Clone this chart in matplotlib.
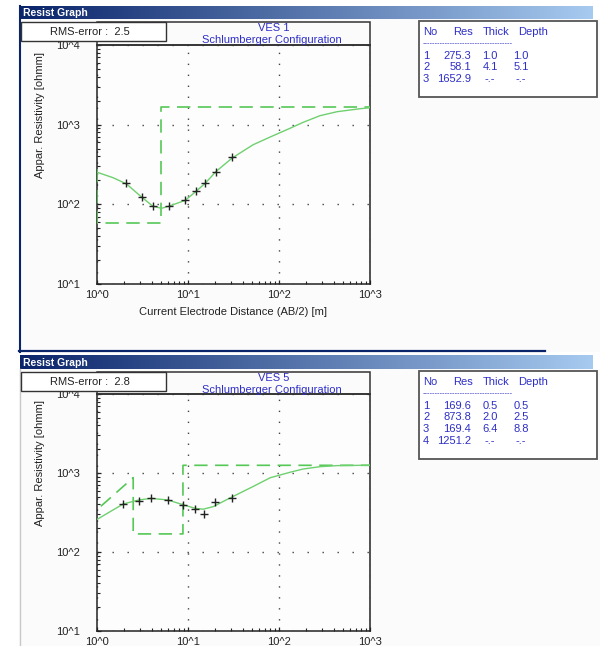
import matplotlib
matplotlib.use('Agg')
import matplotlib.pyplot as plt
import numpy as np
from matplotlib.patches import Rectangle
from matplotlib.ticker import NullFormatter, LogLocator

plt.rcParams['font.family'] = ['Liberation Sans', 'DejaVu Sans']

W, H = 600, 646

# VES 1 field data and fitted curve
ves1_ab2 = [2.1, 3.1, 4.1, 6.2, 9.3, 12.2, 15.4, 20.3, 30.7]
ves1_rho = [185, 123, 95, 94, 112, 145, 183, 258, 394]
ves1_fit_ab2 = [1.0, 1.5, 2.1, 3.1, 4.1, 5.1, 6.2, 9.3, 12.2, 15.4, 20.3, 30.7, 52, 80, 132, 184, 282, 434, 776, 1000]
ves1_fit_rho = [253, 216, 181, 123, 95, 89, 95, 112, 145, 183, 258, 383, 560, 700, 900, 1069, 1296, 1454, 1585, 1631]
ves1_res = [275.3, 58.1, 1652.9]
ves1_thick = [1.0, 4.1]
ves1_depth = [1.0, 5.1]

# VES 5 field data and fitted curve
ves5_ab2 = [1.95, 2.9, 3.9, 6.0, 8.9, 11.9, 15.0, 19.8, 30.2]
ves5_rho = [406, 447, 477, 456, 395, 350, 299, 425, 477]
ves5_fit_ab2 = [1.0, 1.4, 1.95, 2.9, 3.9, 6.0, 8.9, 11.9, 14.7, 19.0, 30.2, 52, 80, 132, 184, 282, 434, 1000]
ves5_fit_rho = [258, 325, 406, 456, 477, 456, 395, 358, 348, 376, 495, 675, 871, 1021, 1123, 1202, 1240, 1255]
ves5_res = [169.6, 873.8, 169.4, 1251.2]
ves5_thick = [0.5, 2.0, 6.4]
ves5_depth = [0.5, 2.5, 8.8]

x_ticks = [1, 10, 100, 1000]
x_labels = ['10^0', '10^1', '10^2', '10^3']
y_ticks = [10, 100, 1000, 10000]
y_labels = ['10^1', '10^2', '10^3', '10^4']

GREEN = '#6fd06f'
GREEN_D = '#55c855'
BLUE_TXT = '#2e2ec8'


def px_rect(l, t, r, b):
    return [l / W, 1 - b / H, (r - l) / W, (b - t) / H]


def model_path(res, depth, xmin=1.0, xmax=1000.0):
    xs, ys = [depth[0]], [res[0]]
    for r, d0, d1 in zip(res[1:], depth, depth[1:] + [xmax]):
        xs += [d0, d1]
        ys += [r, r]
    # program joins first point straight to the first visible corner
    keep = [0] + [i for i in range(1, len(xs)) if xs[i] >= xmin]
    return [xs[i] for i in keep], [ys[i] for i in keep]


def draw_panel(fig, box, ab2, rho, fx, fy, res, depth):
    ax = fig.add_axes(px_rect(*box))
    ax.set_facecolor('#fdfdfd')
    ax.set_xscale('log')
    ax.set_yscale('log')
    mx, my = model_path(res, depth)
    ax.plot(mx, my, color=GREEN_D, lw=1.2, linestyle=(0, (8, 4.5)), zorder=3)
    ax.plot(fx, fy, color=GREEN, lw=1.0, zorder=3)
    ax.plot(ab2, rho, '+', color='#222222', ms=6, mew=1.0, zorder=4)
    ax.set_xlim(1, 1000)
    ax.set_ylim(10, 10000)
    ax.set_xticks(x_ticks, x_labels)
    ax.set_yticks(y_ticks, y_labels)
    ax.xaxis.set_minor_locator(LogLocator(subs=np.arange(2, 10)))
    ax.yaxis.set_minor_locator(LogLocator(subs=np.arange(2, 10)))
    ax.xaxis.set_minor_formatter(NullFormatter())
    ax.yaxis.set_minor_formatter(NullFormatter())
    ax.tick_params(which='major', direction='in', length=3, width=0.9,
                   labelsize=8, labelcolor='#222222', color='#222222')
    ax.tick_params(which='minor', direction='in', length=2, width=0.8, color='#222222')
    ax.tick_params(axis='y', which='major', pad=12)
    ax.tick_params(axis='x', which='major', pad=4)
    ax.xaxis.grid(True, which='major', color='#444444', lw=1.0, linestyle=(0, (1, 6.9)))
    ax.yaxis.grid(True, which='major', color='#444444', lw=1.0, linestyle=(0, (1, 9.8)))
    for s in ax.spines.values():
        s.set_color('#222222')
        s.set_linewidth(1.1)
    return ax


fig = plt.figure(figsize=(6, 6.46), dpi=100)
fig.patch.set_facecolor('white')

# background: panels and title bars
bg = fig.add_axes([0, 0, 1, 1], zorder=0)
bg.set_xlim(0, W)
bg.set_ylim(H, 0)
bg.axis('off')
bg.add_patch(Rectangle((19, 19), 581, 333, facecolor='#fbfbfb', edgecolor='none'))
bg.add_patch(Rectangle((19, 369), 581, 277, facecolor='#fbfbfb', edgecolor='none'))
bg.plot([19.5, 19.5], [6, 352], color='#0a246a', lw=1.5)
bg.plot([19, 545], [351, 351], color='#0a246a', lw=1.6)
bg.plot([20, 20], [369, 646], color='#c8c8c8', lw=1.0)
grad = np.linspace(0, 1, 256)
c0 = np.array([10, 36, 106]) / 255
c1 = np.array([166, 202, 240]) / 255
img = (c0[None, :] + grad[:, None] * (c1 - c0)[None, :])[None, :, :]
for top, bot in [(6, 19), (355, 369)]:
    bg.imshow(img, extent=(20, 593, bot, top), aspect='auto', zorder=1)
    bg.text(23, (top + bot) / 2 + 0.5, 'Resist Graph', color='white', fontsize=7.5,
            fontweight='bold', va='center', ha='left', zorder=2)
bg.set_xlim(0, W)
bg.set_ylim(H, 0)

ax1 = draw_panel(fig, (97, 45, 370, 284), ves1_ab2, ves1_rho, ves1_fit_ab2, ves1_fit_rho,
                 ves1_res, ves1_depth)
ax2 = draw_panel(fig, (97, 394, 370, 631), ves5_ab2, ves5_rho, ves5_fit_ab2, ves5_fit_rho,
                 ves5_res, ves5_depth)

# overlay: boxes, captions, tables
ov = fig.add_axes([0, 0, 1, 1], zorder=5)
ov.set_xlim(0, W)
ov.set_ylim(H, 0)
ov.axis('off')
ov.patch.set_alpha(0)

ov.text(233, 312, 'Current Electrode Distance (AB/2) [m]', fontsize=8, color='#222222',
        ha='center', va='center')
for cy in [115, 463]:
    ov.text(40, cy, 'Appar. Resistivity [ohmm]', fontsize=8, color='#222222',
            rotation=90, ha='center', va='center')


def header_block(top, bottom, name, rms):
    ov.add_patch(Rectangle((97, top), 273, bottom - top, facecolor='none',
                           edgecolor='#333333', lw=1.1))
    ov.text(274, top + 6, name, color=BLUE_TXT, fontsize=8, ha='center', va='center')
    ov.text(272, top + 18, 'Schlumberger Configuration', color=BLUE_TXT, fontsize=8,
            ha='center', va='center')
    ov.add_patch(Rectangle((21, top), 145, 19, facecolor='white',
                           edgecolor='#333333', lw=1.0))
    ov.text(90, top + 10, 'RMS-error :  ' + rms, color='#222222', fontsize=8,
            ha='center', va='center')


header_block(22, 45, 'VES 1', '2.5')
header_block(372, 394, 'VES 5', '2.8')


def layer_table(top, bottom, res, thick, depth):
    ov.add_patch(Rectangle((419, top), 178, bottom - top, facecolor='white',
                           edgecolor='#555555', lw=1.3))
    hy = top + 11
    for x, s in [(423, 'No'), (453, 'Res'), (483, 'Thick'), (518, 'Depth')]:
        ov.text(x, hy, s, color=BLUE_TXT, fontsize=8, ha='left', va='center')
    ov.text(423, hy + 12, '-' * 36, color=BLUE_TXT, fontsize=5.5, ha='left', va='center')
    for i, r in enumerate(res):
        y = hy + 24 + i * 11.5
        t = '%.1f' % thick[i] if i < len(thick) else '-.-'
        d = '%.1f' % depth[i] if i < len(depth) else '-.-'
        ov.text(423, y, str(i + 1), color=BLUE_TXT, fontsize=8, ha='left', va='center')
        ov.text(471, y, '%.1f' % r, color=BLUE_TXT, fontsize=8, ha='right', va='center')
        ov.text(490, y, t, color=BLUE_TXT, fontsize=8, ha='center', va='center')
        ov.text(521, y, d, color=BLUE_TXT, fontsize=8, ha='center', va='center')


layer_table(21, 97, ves1_res, ves1_thick, ves1_depth)
layer_table(371, 459, ves5_res, ves5_thick, ves5_depth)

fig.savefig('out.png', dpi=100, facecolor=fig.get_facecolor())
